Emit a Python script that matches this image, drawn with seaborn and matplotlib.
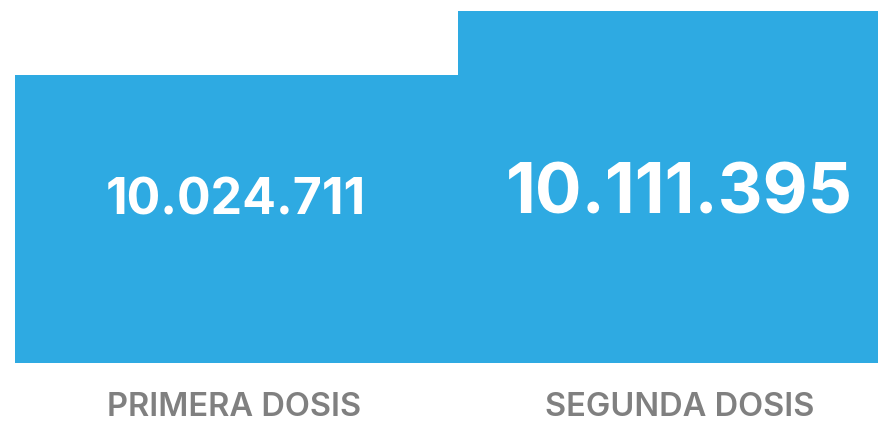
import pandas as pd
import matplotlib.pyplot as plt
import seaborn as sns

# data
categories = ["PRIMERA DOSIS", "SEGUNDA DOSIS"]
doses = [10024711, 10111395]

df = pd.DataFrame({"dosis": categories, "total": doses})

sns.set_theme(style="white")
plt.rcParams['font.family'] = ['Inter', 'DejaVu Sans']

fig = plt.figure(figsize=(8.79, 4.21), dpi=100)
ax = fig.add_axes([15 / 879, 58 / 421, 864 / 879, 352 / 421])

sns.barplot(data=df, x="dosis", y="total", color="#2eaae2", saturation=1,
            width=1, ax=ax, linewidth=0)

# first bar in the reference is a bit wider than the second
bar_widths = [1.026, 0.974]
left = -0.5
for patch, w in zip(ax.patches, bar_widths):
    patch.set_x(left)
    patch.set_width(w)
    left += w

ax.set_xlim(-0.5, 1.5)
ax.set_ylim(9634680, max(doses))

# value labels inside the bars
value_sizes = [36, 50]
value_y = [0.46, 0.478]
value_dx = [0.012, 0.038]
for i, v in enumerate(doses):
    txt = f"{v:,}".replace(",", ".")
    ax.text(i + value_dx[i], value_y[i], txt,
            transform=ax.get_xaxis_transform(), ha="center", va="center",
            color="white", fontsize=value_sizes[i], fontweight="bold")

# category labels below
label_dx = [0.007, 0.039]
for i, cat in enumerate(categories):
    ax.text(i + label_dx[i], -0.125, cat, transform=ax.get_xaxis_transform(),
            ha="center", va="center", color="#808080", fontsize=23.5,
            fontweight="semibold")

ax.set_axis_off()

fig.savefig("out.png", dpi=100)
